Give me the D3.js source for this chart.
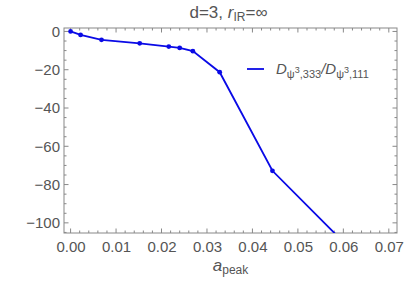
<!DOCTYPE html>
<html>
<head>
<meta charset="utf-8">
<script src="https://cdn.jsdelivr.net/npm/d3@7"></script>
<style>
body { margin:0; background:#fff; }
text { font-family: "Liberation Sans", Arial, sans-serif; fill:#555; }
</style>
</head>
<body>
<svg width="407" height="287"></svg>
<script>
// values
var aPeak = [0.0, 0.0022, 0.0068, 0.0152, 0.0216, 0.0240, 0.0269, 0.0328, 0.0444, 0.0600]
var ratio = [0.0, -1.8, -4.4, -6.2, -7.9, -8.6, -10.3, -21.3, -72.8, -110]
var xTicks = [0, 0.01, 0.02, 0.03, 0.04, 0.05, 0.06, 0.07]
var yTicks = [0, -20, -40, -60, -80, -100]

var screen = {width:407, height:287}
var margins = {top:28, right:10, left:64, bottom:54}
var width = screen.width - margins.left - margins.right
var height = screen.height - margins.top - margins.bottom

var svg = d3.select("svg")

var xScale = d3.scaleLinear().domain([-0.00145, 0.0718]).range([0, width])
var yScale = d3.scaleLinear().domain([1.8, -105.3]).range([0, height])

var g = svg.append("g").attr("transform", "translate(" + margins.left + "," + margins.top + ")")

g.append("clipPath").attr("id", "clip")
  .append("rect").attr("width", width).attr("height", height)

var axisColor = "#888"

// minor ticks on all four sides
var xMinor = d3.range(0, 0.0719, 0.002)
var yMinor = d3.range(0, -105.1, -5)

var tickLen = function(isMajor) { return isMajor ? 4.5 : 2.5 }

xMinor.forEach(function(v) {
  var major = Math.abs(Math.round(v / 0.01) * 0.01 - v) < 1e-6
  g.append("line").attr("x1", xScale(v)).attr("x2", xScale(v))
    .attr("y1", height).attr("y2", height - tickLen(major)).attr("stroke", axisColor)
  g.append("line").attr("x1", xScale(v)).attr("x2", xScale(v))
    .attr("y1", 0).attr("y2", tickLen(major)).attr("stroke", axisColor)
})
yMinor.forEach(function(v) {
  var major = (Math.round(v) % 20) == 0
  g.append("line").attr("y1", yScale(v)).attr("y2", yScale(v))
    .attr("x1", 0).attr("x2", tickLen(major)).attr("stroke", axisColor)
  g.append("line").attr("y1", yScale(v)).attr("y2", yScale(v))
    .attr("x1", width).attr("x2", width - tickLen(major)).attr("stroke", axisColor)
})

// frame
g.append("rect").attr("width", width).attr("height", height)
  .attr("fill", "none").attr("stroke", axisColor).attr("stroke-width", 1)

// tick labels via axes
var xAxis = d3.axisBottom(xScale).tickValues(xTicks).tickSize(0).tickPadding(8)
  .tickFormat(d3.format(".2f"))
var yAxis = d3.axisLeft(yScale).tickValues(yTicks).tickSize(0).tickPadding(4)
  .tickFormat(function(d) { return d < 0 ? "\u2212" + Math.abs(d) : d })

g.append("g").attr("transform", "translate(0," + height + ")").call(xAxis)
  .call(function(s) { s.select(".domain").remove() })
  .selectAll("text").style("font-size", "15px").attr("fill", "#555")
g.append("g").call(yAxis)
  .call(function(s) { s.select(".domain").remove() })
  .selectAll("text").style("font-size", "15px").attr("fill", "#555")

// data line
var blue = "#0a0ae6"
var pts = aPeak.map(function(d, i) { return {x:d, y:ratio[i]} })
var line = d3.line().x(function(d) { return xScale(d.x) }).y(function(d) { return yScale(d.y) })

var plot = g.append("g").attr("clip-path", "url(#clip)")
plot.append("path").datum(pts).attr("d", line)
  .attr("fill", "none").attr("stroke", blue).attr("stroke-width", 1.8)
plot.selectAll("circle").data(pts).enter().append("circle")
  .attr("cx", function(d) { return xScale(d.x) })
  .attr("cy", function(d) { return yScale(d.y) })
  .attr("r", 2.4).attr("fill", blue)

// legend
g.append("line").attr("x1", 183).attr("x2", 200).attr("y1", 41).attr("y2", 41)
  .attr("stroke", blue).attr("stroke-width", 1.8)
var leg = g.append("text").attr("x", 212).attr("y", 46)
  .style("font-size", "15px").style("font-style", "italic").attr("fill", "#222")
leg.append("tspan").text("D")
leg.append("tspan").attr("dy", 4).style("font-size", "11px").style("font-style", "normal").text("\u03c8")
leg.append("tspan").attr("dy", -5).style("font-size", "9px").style("font-style", "normal").text("3")
leg.append("tspan").attr("dy", 5).style("font-size", "11px").style("font-style", "normal").text(",333")
leg.append("tspan").attr("dy", -4).text("/D")
leg.append("tspan").attr("dy", 4).style("font-size", "11px").style("font-style", "normal").text("\u03c8")
leg.append("tspan").attr("dy", -5).style("font-size", "9px").style("font-style", "normal").text("3")
leg.append("tspan").attr("dy", 5).style("font-size", "11px").style("font-style", "normal").text(",111")

// title
var title = svg.append("text").attr("x", margins.left + width / 2 - 2).attr("y", 18)
  .attr("text-anchor", "middle").style("font-size", "17px").attr("fill", "#555")
title.append("tspan").text("d=3, ")
title.append("tspan").style("font-style", "italic").text("r")
title.append("tspan").attr("dy", 3).style("font-size", "12px").text("IR")
title.append("tspan").attr("dy", -3).text("=\u221e")

// x label
var xl = svg.append("text").attr("x", margins.left + width / 2).attr("y", 271)
  .attr("text-anchor", "middle").style("font-size", "17px").attr("fill", "#555")
xl.append("tspan").style("font-style", "italic").text("a")
xl.append("tspan").attr("dy", 3).style("font-size", "12px").text("peak")
</script>
</body>
</html>
